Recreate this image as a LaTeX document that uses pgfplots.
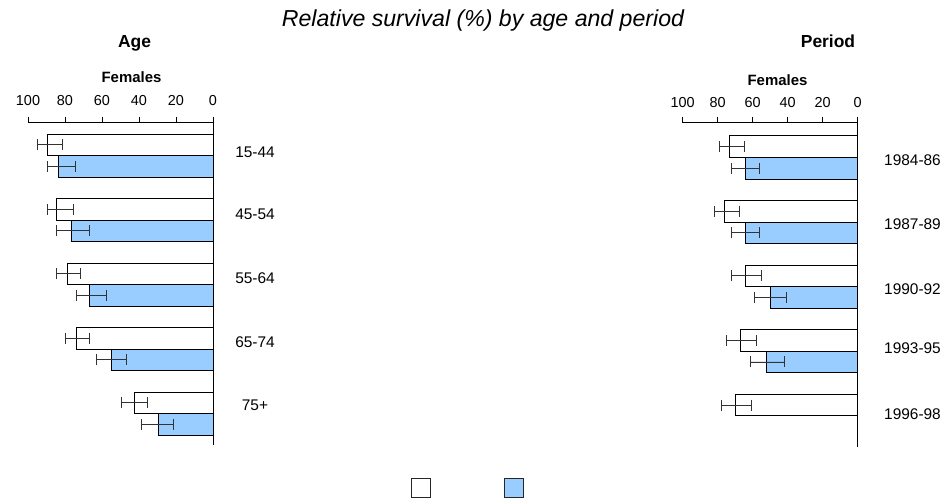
\documentclass[border=0pt]{standalone}
\usepackage{pgfplots}
\pgfplotsset{compat=1.18}
\usepackage{pgfplotstable}
\usepackage{fontspec}
\setmainfont{Liberation Sans}

\definecolor{barblue}{HTML}{99CCFF}

% y: group position (top group = 4), v: survival (negative, bars grow left)
% ep / em: distance to right / left end of the CI
\pgfplotstableread{
y      v      ep   em
4.167  -89.6  8.1  5.2
3.167  -84.9  9.2  4.5
2.167  -78.8  7.1  6.1
1.167  -73.7  7.0  6.1
0.167  -42.7  7.2  6.9
}\agewhite
\pgfplotstableread{
y      v      ep    em
3.833  -83.6  9.2   5.8
2.833  -76.8  9.9   7.9
1.833  -66.9  9.2   6.8
0.833  -54.8  8.1   8.1
-0.167 -29.5  8.0   9.0
}\ageblue
\pgfplotstableread{
y      v      ep   em
4.167  -73.1  8.3  6.0
3.167  -76.2  8.4  5.7
2.167  -64.0  8.7  8.0
1.167  -67.1  9.2  7.8
0.167  -69.9  8.9  8.0
}\perwhite
\pgfplotstableread{
y      v      ep    em
3.833  -64.0  8.0   8.0
2.833  -64.0  8.0   8.0
1.833  -50.1  9.3   9.0
0.833  -52.0  10.1  9.1
}\perblue

\pgfplotsset{
  panel/.style={
    scale only axis,
    anchor=north west,
    xmin=-100, xmax=0,
    xtick={-100,-80,-60,-40,-20,0},
    xticklabels={100,80,60,40,20,0},
    axis x line*=top,
    axis y line*=right,
    ytick=\empty,
    tick align=outside,
    major tick length=6bp,
    axis line style={black, line width=0.8bp},
    x tick style={black, line width=0.8bp},
    xticklabel style={font=\fontsize{14.5}{17}\selectfont},
    clip=false,
  },
  ci/.style={
    xbar, bar width=21.5bp, bar shift=0pt,
    error bars/x dir=both, error bars/x explicit,
    error bars/error mark=|,
    error bars/error bar style={black!80, line width=0.8bp},
    error bars/error mark options={black!80, line width=0.8bp, mark size=5.5bp}},
}

\begin{document}
\begin{tikzpicture}
\path[use as bounding box] (0,0) rectangle (947bp,-498bp);

\node[anchor=base, font=\itshape\fontsize{23.2}{27}\selectfont] at (483bp,-26.7bp)
  {Relative survival (\%) by age and period};
\node[anchor=base, font=\bfseries\fontsize{17.5}{20}\selectfont] at (134.5bp,-47.3bp) {Age};
\node[anchor=base, font=\bfseries\fontsize{17.5}{20}\selectfont] at (828bp,-47.3bp) {Period};
\node[anchor=base, font=\bfseries\fontsize{15}{18}\selectfont] at (131.5bp,-82.7bp) {Females};
\node[anchor=base, font=\bfseries\fontsize{15}{18}\selectfont] at (777.5bp,-85bp) {Females};

\begin{axis}[panel,
  at={(28bp,-122.5bp)}, width=185bp, height=322.5bp,
  ymin=-0.486, ymax=4.512,
  xticklabel style={yshift=7.5bp}]
\addplot[draw=black, fill=white, line width=0.8bp, ci]
  table[x=v, y=y, x error plus=ep, x error minus=em] {\agewhite};
\addplot[draw=black, fill=barblue, line width=0.8bp, ci]
  table[x=v, y=y, x error plus=ep, x error minus=em] {\ageblue};
\end{axis}

\begin{axis}[panel,
  at={(682.7bp,-122.5bp)}, width=175bp, height=324.3bp,
  ymin=-0.48, ymax=4.54,
  xticklabel style={yshift=5bp}]
\addplot[draw=black, fill=white, line width=0.8bp, ci]
  table[x=v, y=y, x error plus=ep, x error minus=em] {\perwhite};
\addplot[draw=black, fill=barblue, line width=0.8bp, ci]
  table[x=v, y=y, x error plus=ep, x error minus=em] {\perblue};
\end{axis}

\begin{scope}[font=\fontsize{15.5}{18}\selectfont]
\node at (255bp,-152.7bp) {15-44};
\node at (255bp,-214bp) {45-54};
\node at (255bp,-278bp) {55-64};
\node at (255bp,-341.7bp) {65-74};
\node at (255bp,-405.7bp) {75+};
\node at (912.5bp,-160bp) {1984-86};
\node at (912.5bp,-224bp) {1987-89};
\node at (912.5bp,-289.3bp) {1990-92};
\node at (912.5bp,-348.3bp) {1993-95};
\node at (912.5bp,-414.3bp) {1996-98};
\end{scope}

\draw[black!85, line width=0.8bp, fill=white] (411bp,-478bp) rectangle (430.7bp,-497bp);
\draw[black!85, line width=0.8bp, fill=barblue] (504bp,-478bp) rectangle (523.7bp,-497bp);
\end{tikzpicture}
\end{document}
